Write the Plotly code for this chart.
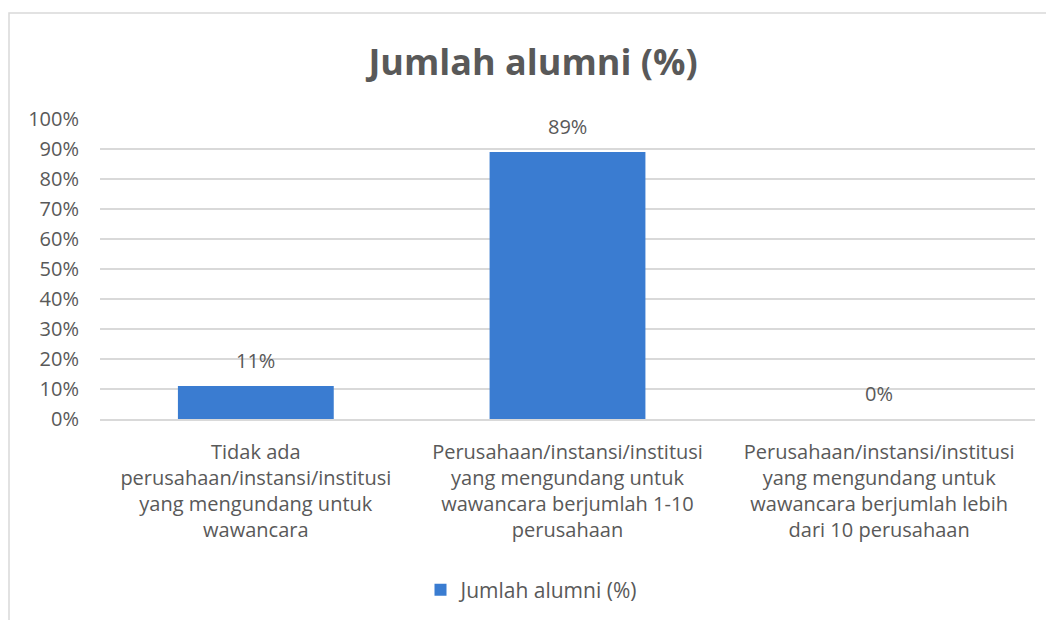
import plotly.graph_objects as go

categories = [
    "Tidak ada<br>perusahaan/instansi/institusi<br>yang mengundang untuk<br>wawancara",
    "Perusahaan/instansi/institusi<br>yang mengundang untuk<br>wawancara berjumlah 1-10<br>perusahaan",
    "Perusahaan/instansi/institusi<br>yang mengundang untuk<br>wawancara berjumlah lebih<br>dari 10 perusahaan",
]
values = [0.11, 0.89, 0.0]
labels = ["11%", "89%", "0%"]
series_name = "Jumlah alumni (%)"
tick_vals = [i / 10 for i in range(11)]
tick_text = [f"{i * 10}%" for i in range(11)]

FONT = "'Open Sans', sans-serif"
GRAY = "#595959"
OFF = 8  # page body margin

W, H = 1054 - OFF, 620 - OFF
L, T = 100 - OFF, 119 - OFF
PR, PB = 1035 - OFF, 419 - OFF  # plot right / bottom in figure px
R, B = W - PR, H - PB
pw, ph = PR - L, PB - T

fig = go.Figure()
fig.add_trace(go.Bar(
    x=categories, y=values, name=series_name,
    marker=dict(color="#3a7cd1", line=dict(width=0)),
    width=0.5,
))
for c, v, s in zip(categories, values, labels):
    fig.add_annotation(x=c, y=v, text=s, showarrow=False, yshift=26,
                       font=dict(size=20, color=GRAY, family=FONT))

# chart border
fig.add_shape(type="rect", xref="paper", yref="paper",
              x0=(1 - L) / pw, x1=(W + 20 - L) / pw,
              y0=-(H + 20 - PB) / ph, y1=1 + (T - (13 - OFF)) / ph,
              line=dict(color="#d9d9d9", width=1.5), layer="below")

fig.update_layout(
    width=W, height=H, autosize=False,
    margin=dict(l=L, r=R, t=T, b=B, autoexpand=False),
    paper_bgcolor="white", plot_bgcolor="white",
    font=dict(family=FONT, color=GRAY),
    title=dict(text="<b>Jumlah alumni (%)</b>", x=(533 - OFF - L) / pw, xref="paper",
               xanchor="center", y=1 - (62 - OFF) / H, yanchor="middle",
               font=dict(size=36, color=GRAY, family=FONT)),
    showlegend=True,
    legend=dict(orientation="h", x=(532 - OFF - L) / pw, xanchor="center",
                y=-(590 - OFF - PB) / ph, yanchor="middle", itemwidth=30,
                font=dict(size=21, color=GRAY, family=FONT)),
    bargap=0.5,
)
fig.update_yaxes(range=[0, 1], tickvals=tick_vals, ticktext=tick_text,
                 showgrid=True, gridcolor="#d9d9d9", gridwidth=1.5,
                 zeroline=False, showline=False, automargin=False,
                 tickfont=dict(size=20, color=GRAY, family=FONT), ticklabelstandoff=20)
fig.update_xaxes(showline=True, linecolor="#d9d9d9", linewidth=1.5, automargin=False,
                 tickfont=dict(size=20, color=GRAY, family=FONT), tickangle=0,
                 ticklabelstandoff=14)

fig.write_html("out.html")
